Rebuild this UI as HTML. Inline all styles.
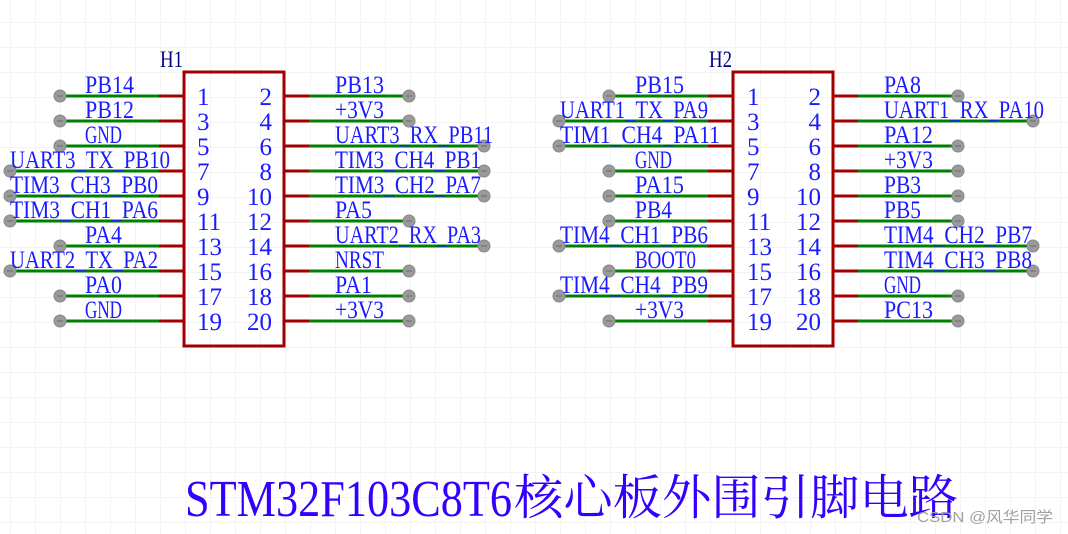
<!DOCTYPE html>
<html><head><meta charset="utf-8"><style>
html,body{margin:0;padding:0;background:#fff;}
svg{display:block;}
.lb{font-family:"Liberation Serif",serif;font-size:25px;fill:#1a1aff;}
.pn{font-family:"Liberation Serif",serif;font-size:25px;fill:#1a1aff;}
.r{stroke:#a00000;stroke-width:3;}
.g{stroke:#008000;stroke-width:3;}
.d{fill:#9a9a9a;stroke:#888;stroke-width:1;}
.m{stroke:#6a6a6a;stroke-width:1;}
</style></head><body>
<svg width="1068" height="534" xmlns="http://www.w3.org/2000/svg">
<defs>
<pattern id="grid" x="10" y="22" width="25" height="25" patternUnits="userSpaceOnUse">
<path d="M0 0 H25 M0 0 V25" stroke="#ececec" stroke-width="1.2" fill="none"/>
</pattern>
<g id="dot"><circle r="6" class="d"/><line x1="-3" y1="0" x2="3" y2="0" class="m"/></g>
</defs>
<rect width="1068" height="534" fill="url(#grid)"/>

<!-- H1 -->
<text x="160" y="67" font-family="Liberation Serif,serif" font-size="23" fill="#000080" textLength="23" lengthAdjust="spacingAndGlyphs">H1</text>
<rect x="184" y="72" width="100" height="274" fill="none" stroke="#a00000" stroke-width="3"/>
<g>
<line x1="159" y1="96" x2="184" y2="96" class="r"/><line x1="60" y1="96" x2="159" y2="96" class="g"/><use href="#dot" x="60" y="96"/>
<line x1="159" y1="121" x2="184" y2="121" class="r"/><line x1="60" y1="121" x2="159" y2="121" class="g"/><use href="#dot" x="60" y="121"/>
<line x1="159" y1="146" x2="184" y2="146" class="r"/><line x1="60" y1="146" x2="159" y2="146" class="g"/><use href="#dot" x="60" y="146"/>
<line x1="159" y1="171" x2="184" y2="171" class="r"/><line x1="10" y1="171" x2="159" y2="171" class="g"/><use href="#dot" x="10" y="171"/>
<line x1="159" y1="196" x2="184" y2="196" class="r"/><line x1="10" y1="196" x2="159" y2="196" class="g"/><use href="#dot" x="10" y="196"/>
<line x1="159" y1="221" x2="184" y2="221" class="r"/><line x1="10" y1="221" x2="159" y2="221" class="g"/><use href="#dot" x="10" y="221"/>
<line x1="159" y1="246" x2="184" y2="246" class="r"/><line x1="60" y1="246" x2="159" y2="246" class="g"/><use href="#dot" x="60" y="246"/>
<line x1="159" y1="271" x2="184" y2="271" class="r"/><line x1="10" y1="271" x2="159" y2="271" class="g"/><use href="#dot" x="10" y="271"/>
<line x1="159" y1="296" x2="184" y2="296" class="r"/><line x1="60" y1="296" x2="159" y2="296" class="g"/><use href="#dot" x="60" y="296"/>
<line x1="159" y1="321" x2="184" y2="321" class="r"/><line x1="60" y1="321" x2="159" y2="321" class="g"/><use href="#dot" x="60" y="321"/>
</g>
<g class="lb">
<text x="85" y="93" textLength="49" lengthAdjust="spacingAndGlyphs">PB14</text>
<text x="85" y="118" textLength="49" lengthAdjust="spacingAndGlyphs">PB12</text>
<text x="85" y="143" textLength="37" lengthAdjust="spacingAndGlyphs">GND</text>
<text x="10" y="168" textLength="160" lengthAdjust="spacingAndGlyphs">UART3_TX_PB10</text>
<text x="10" y="193" textLength="148" lengthAdjust="spacingAndGlyphs">TIM3_CH3_PB0</text>
<text x="10" y="218" textLength="148" lengthAdjust="spacingAndGlyphs">TIM3_CH1_PA6</text>
<text x="85" y="243" textLength="37" lengthAdjust="spacingAndGlyphs">PA4</text>
<text x="10" y="268" textLength="148" lengthAdjust="spacingAndGlyphs">UART2_TX_PA2</text>
<text x="85" y="293" textLength="37" lengthAdjust="spacingAndGlyphs">PA0</text>
<text x="85" y="318" textLength="37" lengthAdjust="spacingAndGlyphs">GND</text>
</g>
<g>
<line x1="284" y1="96" x2="309" y2="96" class="r"/><line x1="309" y1="96" x2="409" y2="96" class="g"/><use href="#dot" x="409" y="96"/>
<line x1="284" y1="121" x2="309" y2="121" class="r"/><line x1="309" y1="121" x2="409" y2="121" class="g"/><use href="#dot" x="409" y="121"/>
<line x1="284" y1="146" x2="309" y2="146" class="r"/><line x1="309" y1="146" x2="484" y2="146" class="g"/><use href="#dot" x="484" y="146"/>
<line x1="284" y1="171" x2="309" y2="171" class="r"/><line x1="309" y1="171" x2="484" y2="171" class="g"/><use href="#dot" x="484" y="171"/>
<line x1="284" y1="196" x2="309" y2="196" class="r"/><line x1="309" y1="196" x2="484" y2="196" class="g"/><use href="#dot" x="484" y="196"/>
<line x1="284" y1="221" x2="309" y2="221" class="r"/><line x1="309" y1="221" x2="409" y2="221" class="g"/><use href="#dot" x="409" y="221"/>
<line x1="284" y1="246" x2="309" y2="246" class="r"/><line x1="309" y1="246" x2="484" y2="246" class="g"/><use href="#dot" x="484" y="246"/>
<line x1="284" y1="271" x2="309" y2="271" class="r"/><line x1="309" y1="271" x2="409" y2="271" class="g"/><use href="#dot" x="409" y="271"/>
<line x1="284" y1="296" x2="309" y2="296" class="r"/><line x1="309" y1="296" x2="409" y2="296" class="g"/><use href="#dot" x="409" y="296"/>
<line x1="284" y1="321" x2="309" y2="321" class="r"/><line x1="309" y1="321" x2="409" y2="321" class="g"/><use href="#dot" x="409" y="321"/>
</g>
<g class="lb">
<text x="335" y="93" textLength="49" lengthAdjust="spacingAndGlyphs">PB13</text>
<text x="335" y="118" textLength="49" lengthAdjust="spacingAndGlyphs">+3V3</text>
<text x="335" y="143" textLength="158" lengthAdjust="spacingAndGlyphs">UART3_RX_PB11</text>
<text x="335" y="168" textLength="146" lengthAdjust="spacingAndGlyphs">TIM3_CH4_PB1</text>
<text x="335" y="193" textLength="146" lengthAdjust="spacingAndGlyphs">TIM3_CH2_PA7</text>
<text x="335" y="218" textLength="37" lengthAdjust="spacingAndGlyphs">PA5</text>
<text x="335" y="243" textLength="146" lengthAdjust="spacingAndGlyphs">UART2_RX_PA3</text>
<text x="335" y="268" textLength="49" lengthAdjust="spacingAndGlyphs">NRST</text>
<text x="335" y="293" textLength="37" lengthAdjust="spacingAndGlyphs">PA1</text>
<text x="335" y="318" textLength="49" lengthAdjust="spacingAndGlyphs">+3V3</text>
</g>
<g class="pn">
<text x="197" y="105">1</text><text x="197" y="130">3</text><text x="197" y="155">5</text><text x="197" y="180">7</text><text x="197" y="205">9</text>
<text x="197" y="230">11</text><text x="197" y="255">13</text><text x="197" y="280">15</text><text x="197" y="305">17</text><text x="197" y="330">19</text>
</g>
<g class="pn" text-anchor="end">
<text x="272" y="105">2</text><text x="272" y="130">4</text><text x="272" y="155">6</text><text x="272" y="180">8</text><text x="272" y="205">10</text>
<text x="272" y="230">12</text><text x="272" y="255">14</text><text x="272" y="280">16</text><text x="272" y="305">18</text><text x="272" y="330">20</text>
</g>

<!-- H2 -->
<text x="709" y="67" font-family="Liberation Serif,serif" font-size="23" fill="#000080" textLength="23" lengthAdjust="spacingAndGlyphs">H2</text>
<rect x="733" y="72" width="100" height="274" fill="none" stroke="#a00000" stroke-width="3"/>
<g>
<line x1="708" y1="96" x2="733" y2="96" class="r"/><line x1="609" y1="96" x2="708" y2="96" class="g"/><use href="#dot" x="609" y="96"/>
<line x1="708" y1="121" x2="733" y2="121" class="r"/><line x1="559" y1="121" x2="708" y2="121" class="g"/><use href="#dot" x="559" y="121"/>
<line x1="708" y1="146" x2="733" y2="146" class="r"/><line x1="559" y1="146" x2="708" y2="146" class="g"/><use href="#dot" x="559" y="146"/>
<line x1="708" y1="171" x2="733" y2="171" class="r"/><line x1="609" y1="171" x2="708" y2="171" class="g"/><use href="#dot" x="609" y="171"/>
<line x1="708" y1="196" x2="733" y2="196" class="r"/><line x1="609" y1="196" x2="708" y2="196" class="g"/><use href="#dot" x="609" y="196"/>
<line x1="708" y1="221" x2="733" y2="221" class="r"/><line x1="609" y1="221" x2="708" y2="221" class="g"/><use href="#dot" x="609" y="221"/>
<line x1="708" y1="246" x2="733" y2="246" class="r"/><line x1="559" y1="246" x2="708" y2="246" class="g"/><use href="#dot" x="559" y="246"/>
<line x1="708" y1="271" x2="733" y2="271" class="r"/><line x1="609" y1="271" x2="708" y2="271" class="g"/><use href="#dot" x="609" y="271"/>
<line x1="708" y1="296" x2="733" y2="296" class="r"/><line x1="559" y1="296" x2="708" y2="296" class="g"/><use href="#dot" x="559" y="296"/>
<line x1="708" y1="321" x2="733" y2="321" class="r"/><line x1="609" y1="321" x2="708" y2="321" class="g"/><use href="#dot" x="609" y="321"/>
</g>
<g class="lb">
<text x="635" y="93" textLength="49" lengthAdjust="spacingAndGlyphs">PB15</text>
<text x="560" y="118" textLength="148" lengthAdjust="spacingAndGlyphs">UART1_TX_PA9</text>
<text x="560" y="143" textLength="160" lengthAdjust="spacingAndGlyphs">TIM1_CH4_PA11</text>
<text x="635" y="168" textLength="37" lengthAdjust="spacingAndGlyphs">GND</text>
<text x="635" y="193" textLength="49" lengthAdjust="spacingAndGlyphs">PA15</text>
<text x="635" y="218" textLength="37" lengthAdjust="spacingAndGlyphs">PB4</text>
<text x="560" y="243" textLength="148" lengthAdjust="spacingAndGlyphs">TIM4_CH1_PB6</text>
<text x="635" y="268" textLength="61" lengthAdjust="spacingAndGlyphs">BOOT0</text>
<text x="560" y="293" textLength="148" lengthAdjust="spacingAndGlyphs">TIM4_CH4_PB9</text>
<text x="635" y="318" textLength="49" lengthAdjust="spacingAndGlyphs">+3V3</text>
</g>
<g>
<line x1="833" y1="96" x2="858" y2="96" class="r"/><line x1="858" y1="96" x2="958" y2="96" class="g"/><use href="#dot" x="958" y="96"/>
<line x1="833" y1="121" x2="858" y2="121" class="r"/><line x1="858" y1="121" x2="1033" y2="121" class="g"/><use href="#dot" x="1033" y="121"/>
<line x1="833" y1="146" x2="858" y2="146" class="r"/><line x1="858" y1="146" x2="958" y2="146" class="g"/><use href="#dot" x="958" y="146"/>
<line x1="833" y1="171" x2="858" y2="171" class="r"/><line x1="858" y1="171" x2="958" y2="171" class="g"/><use href="#dot" x="958" y="171"/>
<line x1="833" y1="196" x2="858" y2="196" class="r"/><line x1="858" y1="196" x2="958" y2="196" class="g"/><use href="#dot" x="958" y="196"/>
<line x1="833" y1="221" x2="858" y2="221" class="r"/><line x1="858" y1="221" x2="958" y2="221" class="g"/><use href="#dot" x="958" y="221"/>
<line x1="833" y1="246" x2="858" y2="246" class="r"/><line x1="858" y1="246" x2="1033" y2="246" class="g"/><use href="#dot" x="1033" y="246"/>
<line x1="833" y1="271" x2="858" y2="271" class="r"/><line x1="858" y1="271" x2="1033" y2="271" class="g"/><use href="#dot" x="1033" y="271"/>
<line x1="833" y1="296" x2="858" y2="296" class="r"/><line x1="858" y1="296" x2="958" y2="296" class="g"/><use href="#dot" x="958" y="296"/>
<line x1="833" y1="321" x2="858" y2="321" class="r"/><line x1="858" y1="321" x2="958" y2="321" class="g"/><use href="#dot" x="958" y="321"/>
</g>
<g class="lb">
<text x="884" y="93" textLength="37" lengthAdjust="spacingAndGlyphs">PA8</text>
<text x="884" y="118" textLength="160" lengthAdjust="spacingAndGlyphs">UART1_RX_PA10</text>
<text x="884" y="143" textLength="49" lengthAdjust="spacingAndGlyphs">PA12</text>
<text x="884" y="168" textLength="49" lengthAdjust="spacingAndGlyphs">+3V3</text>
<text x="884" y="193" textLength="37" lengthAdjust="spacingAndGlyphs">PB3</text>
<text x="884" y="218" textLength="37" lengthAdjust="spacingAndGlyphs">PB5</text>
<text x="884" y="243" textLength="148" lengthAdjust="spacingAndGlyphs">TIM4_CH2_PB7</text>
<text x="884" y="268" textLength="148" lengthAdjust="spacingAndGlyphs">TIM4_CH3_PB8</text>
<text x="884" y="293" textLength="37" lengthAdjust="spacingAndGlyphs">GND</text>
<text x="884" y="318" textLength="49" lengthAdjust="spacingAndGlyphs">PC13</text>
</g>
<g class="pn">
<text x="747" y="105">1</text><text x="747" y="130">3</text><text x="747" y="155">5</text><text x="747" y="180">7</text><text x="747" y="205">9</text>
<text x="747" y="230">11</text><text x="747" y="255">13</text><text x="747" y="280">15</text><text x="747" y="305">17</text><text x="747" y="330">19</text>
</g>
<g class="pn" text-anchor="end">
<text x="821" y="105">2</text><text x="821" y="130">4</text><text x="821" y="155">6</text><text x="821" y="180">8</text><text x="821" y="205">10</text>
<text x="821" y="230">12</text><text x="821" y="255">14</text><text x="821" y="280">16</text><text x="821" y="305">18</text><text x="821" y="330">20</text>
</g>

<!-- title -->
<text x="185" y="516" font-family="Liberation Serif,serif" font-size="52" fill="#3300ff" textLength="327" lengthAdjust="spacingAndGlyphs">STM32F103C8T6</text>
<text x="514" y="514" font-family="'Noto Serif CJK SC','Noto Sans CJK SC',serif" font-size="48" fill="#3300ff" textLength="444" lengthAdjust="spacingAndGlyphs">核心板外围引脚电路</text>
<text x="917" y="522" font-family="'Liberation Sans','Noto Sans CJK SC',sans-serif" font-size="15" fill="#a0a0a0" textLength="136" lengthAdjust="spacingAndGlyphs">CSDN @风华同学</text>
</svg>
</body></html>
